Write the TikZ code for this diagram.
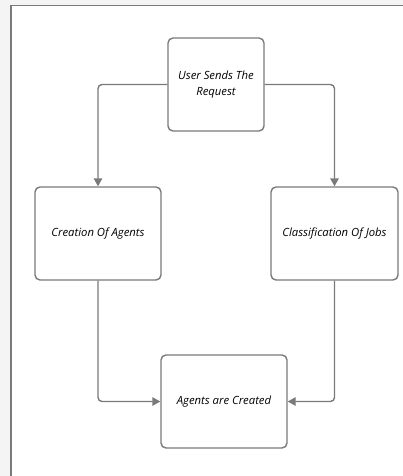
\documentclass[tikz,border=0pt]{standalone}
\usepackage{fontspec}
\setmainfont{Open Sans}
\usetikzlibrary{arrows.meta}
\definecolor{edgegrey}{HTML}{7A7A7A}
\definecolor{outerbg}{HTML}{F4F4F4}
\begin{document}
\begin{tikzpicture}[x=1pt,y=-1pt,
  box/.style={draw=edgegrey, line width=1.4pt, rounded corners=5pt, fill=white,
    inner sep=0pt, align=center, font=\fontsize{11.3}{16.5}\selectfont\itshape},
  flow/.style={draw=edgegrey, line width=1.4pt, rounded corners=4pt,
    -{Triangle[length=8pt,width=8.5pt]}}]
  % canvas and outer frame
  \fill[outerbg] (0,0) rectangle (403,476);
  \useasboundingbox (0,0) rectangle (403,476);
  \fill[white] (11,5.5) rectangle (405,478);
  \draw[edgegrey, line width=1.4pt] (405,5.5) -- (11,5.5) -- (11,478);

  % process steps
  \node[box, minimum width=96pt, minimum height=93pt] (user) at (216,84.5)
    {User Sends The\\Request};
  \node[box, minimum width=126pt, minimum height=93pt] (agents) at (98,233.5)
    {Creation Of Agents};
  \node[box, minimum width=127pt, minimum height=93pt] (jobs) at (334.5,233.5)
    {Classification Of Jobs};
  \node[box, minimum width=126pt, minimum height=93pt] (done) at (224,401.5)
    {Agents are Created};

  % connectors
  \draw[flow] (user.west) -| (agents.north);
  \draw[flow] (user.east) -| (jobs.north);
  \draw[flow] (agents.south) |- (done.west);
  \draw[flow] (jobs.south) |- (done.east);
\end{tikzpicture}
\end{document}
